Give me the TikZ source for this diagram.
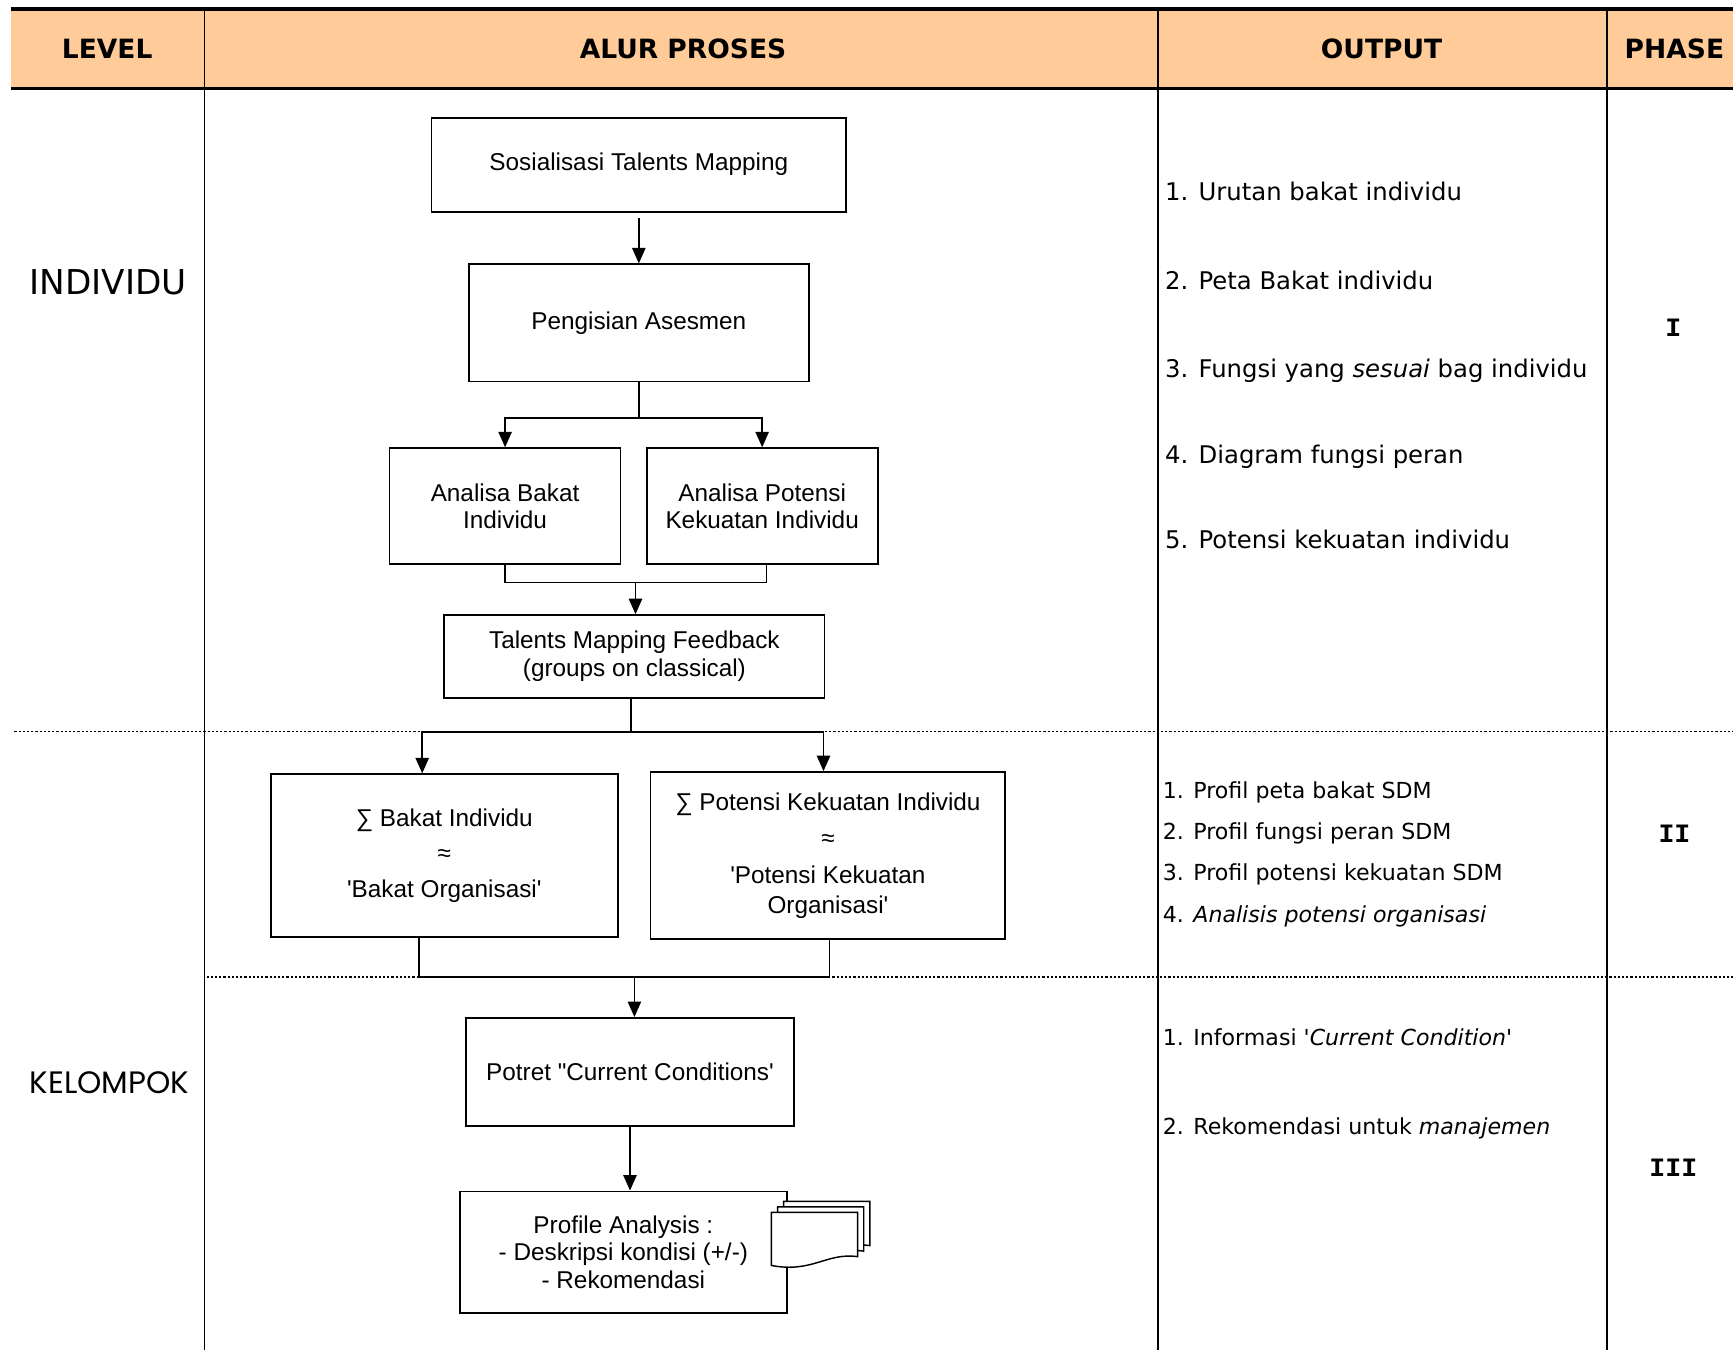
\documentclass[tikz,border=0pt]{standalone}
\usepackage{fontspec}
\usepackage{tikz}
\usetikzlibrary{arrows.meta,positioning}

\newfontfamily\boxfont{Liberation Sans}
\newfontfamily\comicfont{DejaVu Sans}
\newfontfamily\geofont{Poppins}
\newfontfamily\romanfont{Liberation Mono}

\definecolor{headfill}{RGB}{255,204,153}

\tikzset{
  proc/.style={draw,line width=1.6pt,align=center,inner sep=2pt,
    font=\boxfont\fontsize{22}{25}\selectfont},
  link/.style={line width=1.6pt},
  headtext/.style={font=\comicfont\bfseries\fontsize{24}{28}\selectfont},
  outbig/.style={anchor=west,inner sep=0pt,text height=17pt,text depth=5pt,
    font=\comicfont\fontsize{22}{26}\selectfont},
  outsmall/.style={anchor=west,inner sep=0pt,text height=15pt,text depth=4pt,
    font=\comicfont\fontsize{20}{24}\selectfont},
  phasetext/.style={font=\romanfont\bfseries\fontsize{24}{28}\selectfont},
  grid/.style={line width=1.6pt},
  sepline/.style={line width=1.4pt,dash pattern=on 2pt off 1.8pt}
}

\begin{document}
\begin{tikzpicture}[x=1pt,y=-1pt,>={Triangle[length=14pt,width=12pt]}]
      \useasboundingbox (0,0) rectangle (1568,1221);

      % table
      \fill[headfill] (10,8) rectangle (1568,80);
      \draw[line width=3pt] (10,8) -- (1568,8) (10,80) -- (1568,80);
      \draw[grid] (185,8) -- (185,1221);
      \draw[grid] (1048,8) -- (1048,1221);
      \draw[grid] (1454,8) -- (1454,1221);
      \draw[sepline] (13,662) -- (1568,662);
      \draw[sepline] (187,884) -- (1568,884);

      \node[headtext] (hlevel) at (97,44)   {LEVEL};
      \node[headtext] (hflow)  at (618,44)  {ALUR PROSES};
      \node[headtext] (hout)   at (1250,44) {OUTPUT};
      \node[headtext] (hphase) at (1515,44) {PHASE};

      \node[font=\comicfont\fontsize{31}{34}\selectfont] (lvind) at (98,255) {INDIVIDU};
      \node[font=\geofont\fontsize{28}{32}\selectfont]   (lvkel) at (99,980) {KELOMPOK};

      % flow
      \node[proc,minimum width=375pt,minimum height=85pt]  (soc) at (578,149) {Sosialisasi Talents Mapping};
      \node[proc,minimum width=308pt,minimum height=106pt] (ases) [below=46pt of soc] {Pengisian Asesmen};
      \node[proc,minimum width=209pt,minimum height=105pt] (bakat) at (457,458) {Analisa Bakat\\Individu};
      \node[proc,minimum width=209pt,minimum height=105pt] (potensi) [right=22pt of bakat] {Analisa Potensi\\Kekuatan Individu};
      \node[proc,minimum width=344pt,minimum height=75pt]  (feedback) at (574,594) {Talents Mapping Feedback\\(groups on classical)};
      \node[proc,minimum width=314pt,minimum height=147pt] (sbakat) at (402,774) {∑ Bakat Individu\\[7pt]≈\\[7pt]'Bakat Organisasi'};
      \node[proc,minimum width=321pt,minimum height=151pt] (spotensi) [right=28pt of sbakat] {∑ Potensi Kekuatan Individu\\[8pt]≈\\[8pt]'Potensi Kekuatan\\[2pt]Organisasi'};
      \node[proc,minimum width=297pt,minimum height=98pt]  (potret) at (570,970) {Potret "Current Conditions'};
      \node[proc,minimum width=296pt,minimum height=110pt] (profile) at (564,1133) {Profile Analysis :\\- Deskripsi kondisi (+/-)\\- Rekomendasi};

      \coordinate (j1) at (575,527);
      \coordinate (j2) at (571,662);
      \coordinate (j3) at (574,884);

      \path[link,->,shorten <=5pt] (soc) edge (ases);
      \draw[link,->] (ases.south) -- ++(0,32) -| (bakat.north);
      \draw[link,->] (ases.south) -- ++(0,32) -| (potensi.north);
      \draw[link] (bakat.south) |- (j1) -| ([xshift=4pt]potensi.south);
      \draw[link,->] (j1) -- (feedback.north -| j1);
      \draw[link] (j2 |- feedback.south) -- (j2);
      \draw[link,->] (j2) -| ([xshift=-20pt]sbakat.north);
      \draw[link,->] (j2) -| ([xshift=-4pt]spotensi.north);
      \draw[link] ([xshift=-23pt]sbakat.south) |- (j3) -| ([xshift=1.5pt]spotensi.south);
      \draw[link,->] (j3) -- (j3 |- potret.north);
      \draw[link,->] (potret.south) -- (potret.south |- profile.north);

      % stacked documents
      \foreach \k in {2,1,0}
        \draw[fill=white,line width=1.3pt,shift={(5.5*\k,-5*\k)}] (698,1097) -- (776,1097) -- (776,1137)
          .. controls (748,1133) and (735,1152) .. (698,1145) -- cycle;

      % output
      \node[outbig] (o11) at (1054,175) {1. Urutan bakat individu};
      \node[outbig] (o12) at (1054,256) {2. Peta Bakat individu};
      \node[outbig] (o13) at (1054,336) {3. Fungsi yang \textit{sesuai} bag individu};
      \node[outbig] (o14) at (1054,413) {4. Diagram fungsi peran};
      \node[outbig] (o15) at (1054,490) {5. Potensi kekuatan individu};

      \node[outsmall] (o21) at (1052,717) {1. Profil peta bakat SDM};
      \node[outsmall] (o22) at (1052,754) {2. Profil fungsi peran SDM};
      \node[outsmall] (o23) at (1052,791) {3. Profil potensi kekuatan SDM};
      \node[outsmall] (o24) at (1052,829) {4. \textit{Analisis potensi organisasi}};

      \node[outsmall] (o31) at (1052,940)  {1. Informasi \textit{'Current Condition'}};
      \node[outsmall] (o32) at (1052,1021) {2. Rekomendasi untuk \textit{manajemen}};

      % phase
      \node[phasetext] (ph1) at (1514,297)  {I};
      \node[phasetext] (ph2) at (1515,754)  {II};
      \node[phasetext] (ph3) at (1514,1057) {III};
\end{tikzpicture}
\end{document}
